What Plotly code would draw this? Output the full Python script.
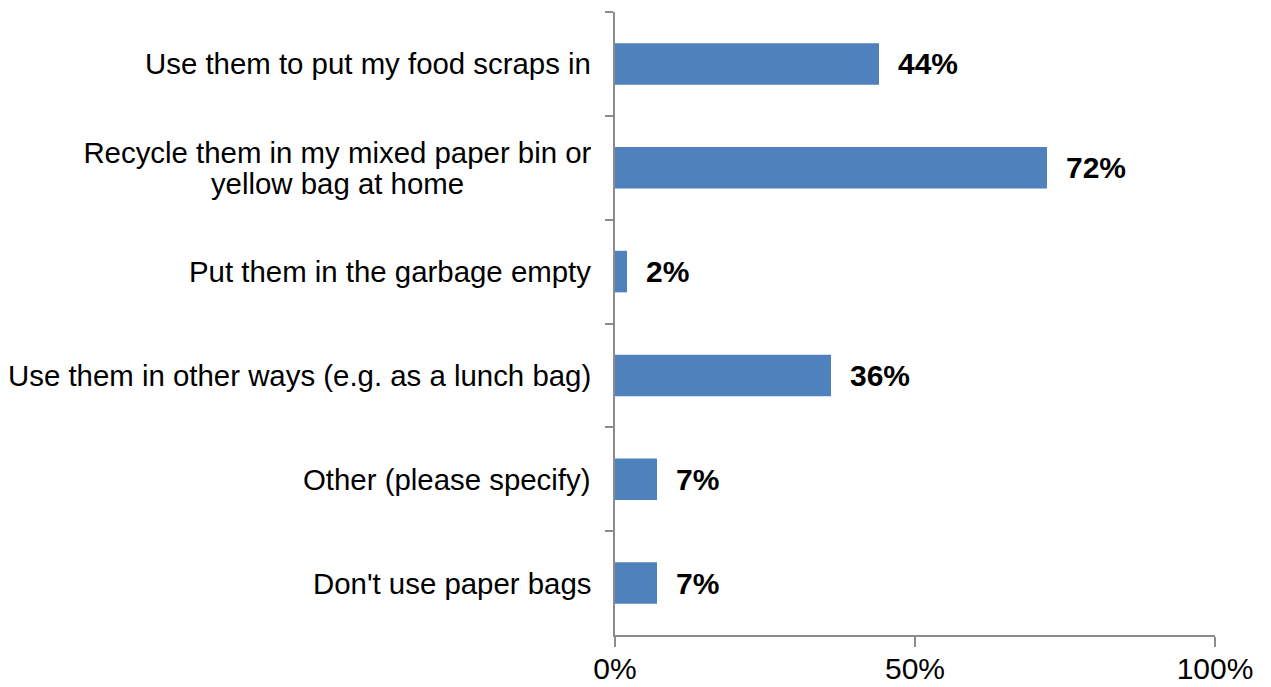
import plotly.graph_objects as go

# Survey responses: what people do with paper bags
categories = [
    "Use them to put my food scraps in",
    "Recycle them in my mixed paper bin or<br>yellow bag at home",
    "Put them in the garbage empty",
    "Use them in other ways (e.g. as a lunch bag)",
    "Other (please specify)",
    "Don't use paper bags",
]
shares = [44, 72, 2, 36, 7, 7]  # percent of respondents

values = [s / 100 for s in shares]

FONT = "Liberation Sans, Arial, sans-serif"
LABEL_SIZE = 29.4
LINE_STEP = 31    # px between lines of a wrapped category label
WRAP_BOX = 507    # px width of the box wrapped labels are centred in

fig = go.Figure(
    go.Bar(
        x=values,
        y=categories,
        orientation="h",
        marker=dict(color="#4F81BD", line=dict(width=0)),
        width=0.4,
        hoverinfo="skip",
    )
)

annotations = []
# value labels to the right of each bar
for cat, v, s in zip(categories, values, shares):
    annotations.append(
        dict(
            x=v, y=cat, xref="x", yref="y",
            text=f"<b>{s}%</b>", showarrow=False,
            xanchor="left", xshift=17,
            font=dict(family=FONT, size=30, color="black"),
        )
    )
# category labels; wrapped ones have each line centred in a common box
for cat in categories:
    lines = cat.split("<br>")
    n = len(lines)
    for i, line in enumerate(lines):
        ann = dict(
            x=0, y=cat, xref="paper", yref="y",
            text=line, showarrow=False,
            xanchor="right", xshift=-22,
            yshift=((n - 1) / 2 - i) * LINE_STEP,
            font=dict(family=FONT, size=LABEL_SIZE, color="black"),
        )
        if n > 1:
            ann.update(width=WRAP_BOX, align="center")
        annotations.append(ann)

fig.update_layout(
    width=1271,
    height=687,
    margin=dict(l=615, r=56, t=12, b=52, autoexpand=False),
    paper_bgcolor="white",
    plot_bgcolor="white",
    showlegend=False,
    annotations=annotations,
    xaxis=dict(
        range=[0, 1],
        tickvals=[0, 0.5, 1],
        ticktext=["0%", "50%", "100%"],
        showgrid=False,
        zeroline=False,
        showline=True,
        linecolor="#8C8C8C",
        linewidth=1.5,
        ticks="outside",
        ticklen=10,
        tickwidth=1.5,
        tickcolor="#8C8C8C",
        ticklabelstandoff=-4,
        tickfont=dict(family=FONT, size=30, color="black"),
        automargin=False,
        fixedrange=True,
    ),
    yaxis=dict(
        type="category",
        categoryorder="array",
        categoryarray=categories,
        autorange="reversed",
        showticklabels=False,
        showgrid=False,
        zeroline=False,
        showline=True,
        linecolor="#8C8C8C",
        linewidth=1.5,
        ticks="outside",
        tickson="boundaries",
        ticklen=8,
        tickwidth=1.5,
        tickcolor="#8C8C8C",
        automargin=False,
        fixedrange=True,
    ),
)

fig.write_html("out.html")
